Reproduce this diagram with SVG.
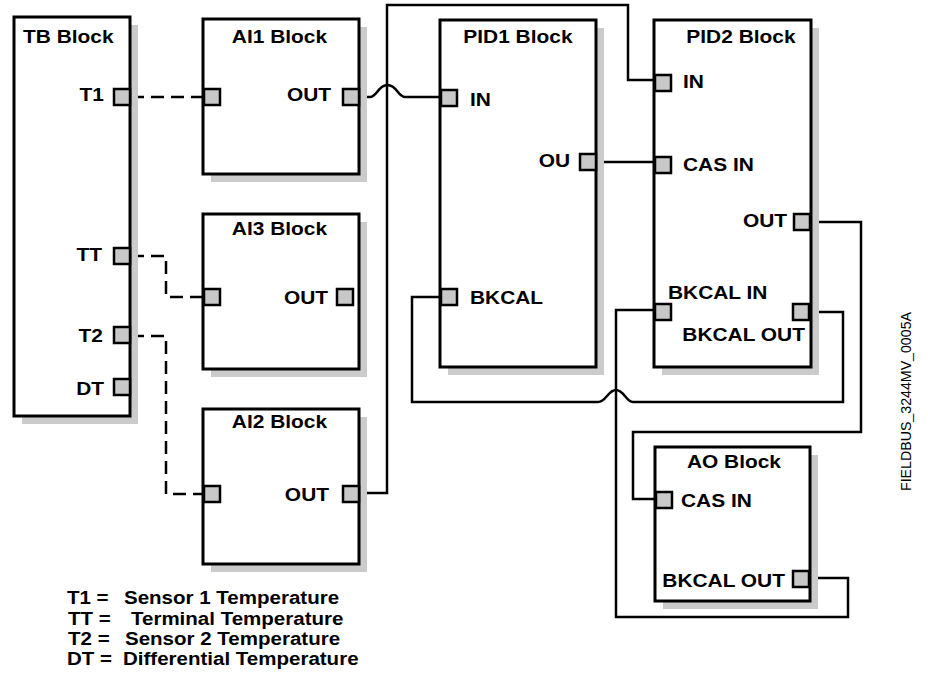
<svg xmlns="http://www.w3.org/2000/svg" width="928" height="677" viewBox="0 0 928 677">
<style>
.blk{fill:#fff;stroke:#000;stroke-width:3}
.sh{fill:#cbcbcb}
.pt{fill:#c8c8c8;stroke:#000;stroke-width:2.5}
.cn{fill:none;stroke:#000;stroke-width:2.5}
.ds{fill:none;stroke:#000;stroke-width:2.5;stroke-dasharray:13 7}
.t{font-family:"Liberation Sans",Arial,Helvetica,sans-serif;font-weight:bold;font-size:19px;fill:#000;transform-box:fill-box;transform:scaleX(1.1)}
.l{text-anchor:start;transform-origin:left center}
.r{text-anchor:end;transform-origin:right center}
.m{text-anchor:middle;transform-origin:center}
.lg{transform:scaleX(1.08)}
.id{font-family:"Liberation Sans",Arial,Helvetica,sans-serif;font-size:15px;fill:#000}
</style>
<g id="connectors">
<path class="cn" d="M359,97 H370 C377,97 378,85 387.5,85 C397,85 398,97 405,97 H441"/>
<path class="cn" d="M359,493 H387 V5 H628 V80 H655"/>
<path class="cn" d="M596,162 H655"/>
<path class="cn" d="M809,312 H843 V402 H633 C626,402 624,390 616,390 C608,390 606,402 598,402 H412 V297 H441"/>
<path class="cn" d="M811,222 H861 V432 H633 V499 H656"/>
<path class="cn" d="M810,578 H848 V617 H616 V310 H655"/>
<path class="ds" d="M131,97 H204"/>
<path class="ds" d="M131,256 H166 V297 H204"/>
<path class="ds" d="M131,336 H166 V494 H204"/>
</g>
<g id="tb-block">
<rect class="sh" x="22" y="25" width="116" height="399"/>
<rect class="blk" x="14" y="17" width="116" height="399"/>
<text class="t l" x="23" y="43">TB Block</text>
<rect class="pt" x="114" y="89" width="16" height="16"/>
<rect class="pt" x="114" y="248" width="16" height="16"/>
<rect class="pt" x="114" y="327" width="16" height="16"/>
<rect class="pt" x="114" y="379" width="16" height="16"/>
<text class="t r" x="104" y="101">T1</text>
<text class="t r" x="102" y="261">TT</text>
<text class="t r" x="103" y="342">T2</text>
<text class="t r" x="104" y="395">DT</text>
</g>
<g id="ai1-block">
<rect class="sh" x="211" y="27" width="156" height="155"/>
<rect class="blk" x="203" y="19" width="156" height="155"/>
<text class="t m" x="279.5" y="43">AI1 Block</text>
<rect class="pt" x="204" y="89" width="16" height="16"/>
<rect class="pt" x="343" y="89" width="16" height="16"/>
<text class="t r" x="331" y="101">OUT</text>
</g>
<g id="ai3-block">
<rect class="sh" x="211" y="222" width="156" height="155"/>
<rect class="blk" x="203" y="214" width="156" height="155"/>
<text class="t m" x="279.5" y="235">AI3 Block</text>
<rect class="pt" x="204" y="289" width="16" height="16"/>
<rect class="pt" x="337" y="289" width="16" height="16"/>
<text class="t r" x="328" y="304">OUT</text>
</g>
<g id="ai2-block">
<rect class="sh" x="211" y="417" width="156" height="155"/>
<rect class="blk" x="203" y="409" width="156" height="155"/>
<text class="t m" x="279.5" y="428">AI2 Block</text>
<rect class="pt" x="204" y="486" width="16" height="16"/>
<rect class="pt" x="343" y="486" width="16" height="16"/>
<text class="t r" x="329" y="501">OUT</text>
</g>
<g id="pid1-block">
<rect class="sh" x="448" y="28" width="156" height="347"/>
<rect class="blk" x="440" y="20" width="156" height="347"/>
<text class="t m" x="518" y="43">PID1 Block</text>
<rect class="pt" x="441" y="90" width="16" height="16"/>
<rect class="pt" x="580" y="154" width="16" height="16"/>
<rect class="pt" x="441" y="289" width="16" height="16"/>
<text class="t l" x="470" y="106">IN</text>
<text class="t r" x="570" y="167">OU</text>
<text class="t l" x="470" y="304">BKCAL</text>
</g>
<g id="pid2-block">
<rect class="sh" x="662" y="28" width="157" height="347"/>
<rect class="blk" x="654" y="20" width="157" height="347"/>
<text class="t m" x="741" y="43">PID2 Block</text>
<rect class="pt" x="655" y="75" width="16" height="16"/>
<rect class="pt" x="655" y="157" width="16" height="16"/>
<rect class="pt" x="794" y="214" width="16" height="16"/>
<rect class="pt" x="655" y="304" width="16" height="16"/>
<rect class="pt" x="793" y="304" width="16" height="16"/>
<text class="t l" x="683" y="88">IN</text>
<text class="t l" x="683" y="171">CAS IN</text>
<text class="t r" x="787" y="227">OUT</text>
<text class="t l" x="668" y="299">BKCAL IN</text>
<text class="t r" x="805" y="341">BKCAL OUT</text>
</g>
<g id="ao-block">
<rect class="sh" x="663" y="455" width="155" height="154"/>
<rect class="blk" x="655" y="447" width="155" height="154"/>
<text class="t m" x="734" y="468">AO Block</text>
<rect class="pt" x="656" y="492" width="16" height="16"/>
<rect class="pt" x="793" y="571" width="16" height="16"/>
<text class="t l" x="681" y="507">CAS IN</text>
<text class="t r" x="785" y="587">BKCAL OUT</text>
</g>
<g id="legend">
<text class="t l lg" x="67" y="604">T1 =</text>
<text class="t l lg" x="124" y="604">Sensor 1 Temperature</text>
<text class="t l lg" x="68" y="625">TT =</text>
<text class="t l lg" x="131" y="625">Terminal Temperature</text>
<text class="t l lg" x="68" y="645">T2 =</text>
<text class="t l lg" x="125" y="645">Sensor 2 Temperature</text>
<text class="t l lg" x="67" y="665">DT =</text>
<text class="t l lg" x="123" y="665">Differential Temperature</text>
</g>
<text class="id" transform="translate(911,401.5) rotate(-90)" text-anchor="middle" textLength="179" lengthAdjust="spacingAndGlyphs">FIELDBUS_3244MV_0005A</text>
</svg>
